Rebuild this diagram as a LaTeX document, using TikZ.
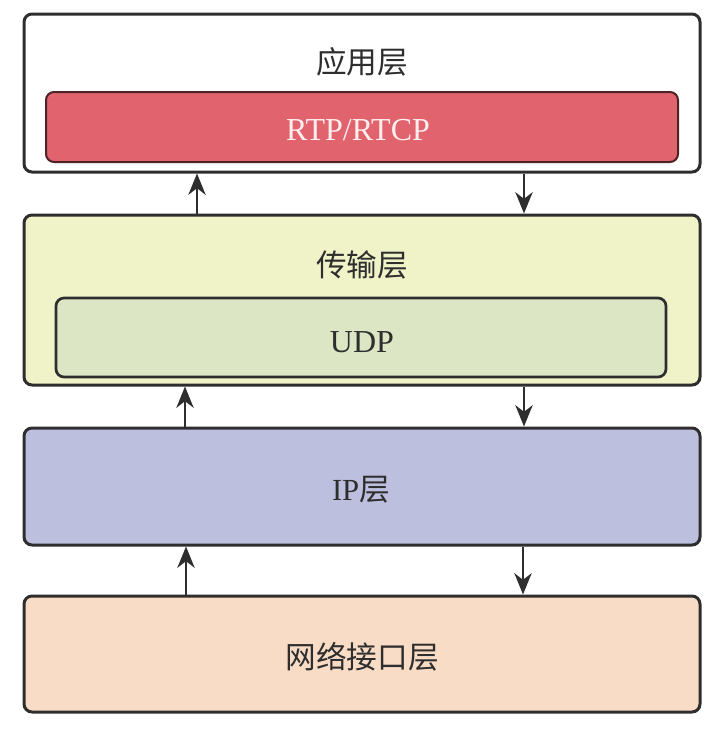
\documentclass[tikz,border=0pt]{standalone}
\usepackage{fontspec}
\setmainfont{Liberation Serif}
\newfontfamily\cjk{Noto Sans CJK SC}
\usetikzlibrary{arrows.meta}

\definecolor{edge}{RGB}{46,46,46}
\definecolor{rtpred}{RGB}{224,99,110}
\definecolor{transyel}{RGB}{240,242,200}
\definecolor{udpgrn}{RGB}{220,230,196}
\definecolor{ipblue}{RGB}{189,191,223}
\definecolor{netorg}{RGB}{249,220,198}

\tikzset{
  layer/.style={draw=edge, line width=2.25pt, rounded corners=6pt, minimum width=507pt, inner sep=0pt},
  inbox/.style={draw=edge, line width=2pt, rounded corners=6pt, inner sep=0pt},
  txt/.style={inner sep=0pt, text=edge, font=\fontsize{23}{28}\selectfont},
  flow/.style={draw=edge, line width=1.5pt, -{Stealth[length=16pt,width=13pt,inset=5pt]}}
}

\begin{document}
\begin{tikzpicture}[x=0.75pt,y=0.75pt,yscale=-1,xscale=1]
\useasboundingbox (0,0) rectangle (727,733);

% layer boxes
\node [layer, fill=white, minimum height=118.5pt] (app) at (362,93) {};
\node [layer, fill=transyel, minimum height=127.5pt] (trans) at (362,300) {};
\node [layer, fill=ipblue, minimum height=87.75pt] (ip) at (362,486.5) {};
\node [layer, fill=netorg, minimum height=87pt] (net) at (362,654) {};

% inner protocol boxes
\node [inbox, draw=black!65!rtpred, line width=1.5pt, fill=rtpred, minimum width=474pt, minimum height=52.5pt] (rtp) at (362,127) {};
\node [inbox, fill=udpgrn, minimum width=457.5pt, minimum height=59.25pt] (udp) at (361,337.5) {};

% Text Node
\node [txt] (applbl) at (362,62) {\cjk 应用层};
\node [txt, font=\fontsize{24}{28}\selectfont, text={rgb,255:red,255;green,238;blue,238}] (rtplbl) at (358,130) {RTP/RTCP};
\node [txt] (translbl) at (362,265) {\cjk 传输层};
\node [txt, font=\fontsize{24}{28}\selectfont] (udplbl) at (362,342) {UDP};
\node [txt] (iplbl) at (361,490) {IP{\cjk 层}};
\node [txt] (netlbl) at (362,657) {\cjk 网络接口层};

% data flow
\draw [flow] (trans.north -| 197,0) -- (app.south -| 197,0);
\draw [flow] (app.south -| 524,0) -- (trans.north -| 524,0);
\draw [flow] (ip.north -| 185,0) -- (trans.south -| 185,0);
\draw [flow] (trans.south -| 524,0) -- (ip.north -| 524,0);
\draw [flow] (net.north -| 186,0) -- (ip.south -| 186,0);
\draw [flow] (ip.south -| 523,0) -- (net.north -| 523,0);

\end{tikzpicture}
\end{document}
